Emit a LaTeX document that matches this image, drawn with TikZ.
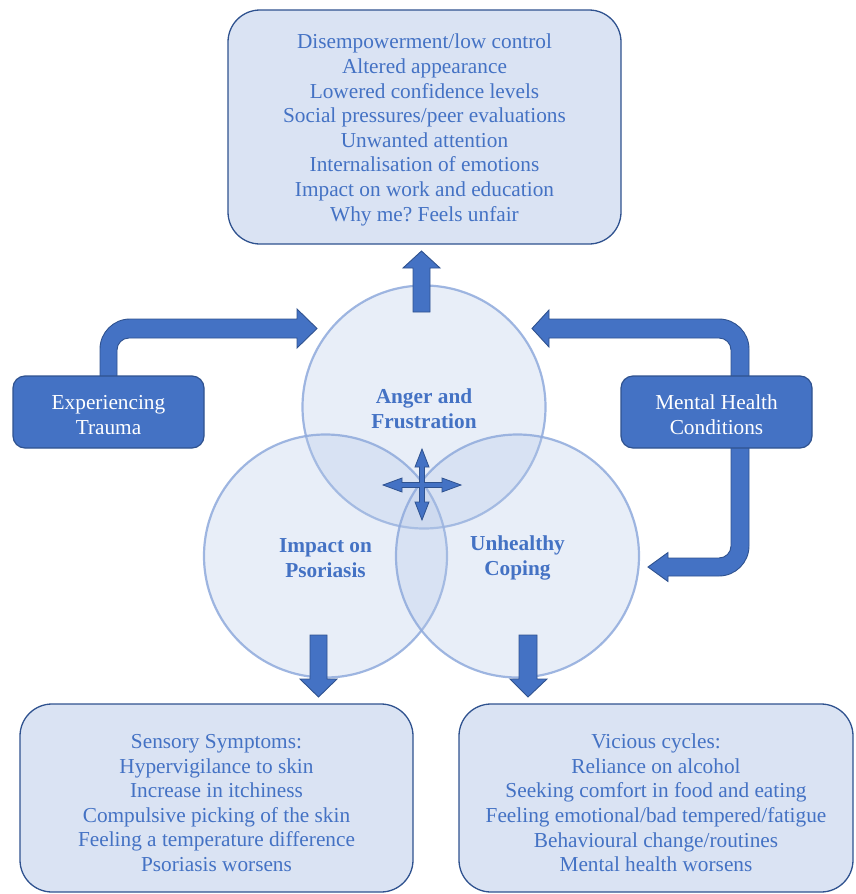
\documentclass[tikz,border=0pt]{standalone}
\usepackage{fontspec}
\setmainfont{Liberation Serif}
\frenchspacing
\definecolor{acc}{HTML}{4472C4}
\definecolor{accd}{HTML}{2F528F}
\definecolor{lite}{HTML}{DAE3F3}
\definecolor{circ}{HTML}{B4C7E7}
\definecolor{circd}{HTML}{8FAADC}
\tikzset{
  listbox/.style={draw=accd, line width=1.3pt, fill=lite, rounded corners=32pt,
    minimum width=393pt, inner sep=0pt},
  listtext/.style={align=center, text=acc, inner sep=0pt,
    font=\fontsize{21.3}{24.6}\selectfont},
  darkbox/.style={draw=accd, line width=1.2pt, fill=acc, rounded corners=12pt,
    minimum width=191pt, minimum height=72pt, inner sep=0pt},
  darktext/.style={align=center, text=white, inner sep=0pt,
    font=\fontsize{21.3}{24.6}\selectfont},
  blockarrow/.style={draw=accd, line width=0.9pt, fill=acc, line join=miter},
  venn/.style={circle, draw=circd, draw opacity=0.85, line width=2.2pt, fill=circ,
    fill opacity=0.3, minimum size=243pt, inner sep=0pt},
  venntext/.style={align=center, text=acc, inner sep=0pt,
    font=\bfseries\fontsize{21.3}{24.6}\selectfont}
}
\begin{document}
\begin{tikzpicture}[x=1pt,y=-1pt]
\useasboundingbox (0,0) rectangle (855,894);
% Venn circles
\node[venn] (anger) at (424,407) {};
\node[venn] (psor) at (325.5,556) {};
\node[venn] (coping) at (517.5,556) {};
\node[venntext] (angerT) at (424,409) {Anger and\\Frustration};
\node[venntext] (psorT) at (325.5,558) {Impact on\\Psoriasis};
\node[venntext] (copingT) at (517.5,558) {Unhealthy\\Coping};
% block arrows
\filldraw[blockarrow] (100,380) -- (100,349) .. controls (100,332.5) and (113.5,319) .. (130,319) -- (297,319) -- (297,309) -- (317,328.5) -- (297,348) -- (297,338) -- (129,338) .. controls (122.4,338) and (117,343.4) .. (117,350) -- (117,380) -- cycle;
\filldraw[blockarrow] (749,380) -- (749,349) .. controls (749,332.5) and (735.5,319) .. (719,319) -- (549,319) -- (549,310) -- (532,328.5) -- (549,347) -- (549,338) -- (719,338) .. controls (725.6,338) and (731,343.4) .. (731,350) -- (731,380) -- cycle;
\filldraw[blockarrow] (749,444) -- (749,546) .. controls (749,562.5) and (735.5,576) .. (719,576) -- (668,576) -- (668,581.5) -- (648,567) -- (668,552.5) -- (668,558) -- (719,558) .. controls (725.6,558) and (731,552.6) .. (731,546) -- (731,444) -- cycle;
\filldraw[blockarrow] (413,312) -- (413,268) -- (403,268) -- (421.5,251) -- (440,268) -- (430,268) -- (430,312) -- cycle;
\filldraw[blockarrow] (310,635) -- (310,679) -- (300,679) -- (318.5,697) -- (337,679) -- (327,679) -- (327,635) -- cycle;
\filldraw[blockarrow] (519,635) -- (519,679) -- (510,679) -- (528,697) -- (547,679) -- (537,679) -- (537,635) -- cycle;
% cross arrow
\filldraw[blockarrow, line width=0.8pt] (461,485) -- (442,478) -- (442,482.5) -- (424.5,482.5) -- (424.5,467) -- (429,467) -- (422,449) -- (415,467) -- (419.5,467) -- (419.5,482.5) -- (402,482.5) -- (402,478) -- (383,485) -- (402,492) -- (402,487.5) -- (419.5,487.5) -- (419.5,502) -- (415,502) -- (422,520) -- (429,502) -- (424.5,502) -- (424.5,487.5) -- (442,487.5) -- (442,492) -- cycle;
% boxes
\node[listbox, minimum height=234pt] (top) at (424.5,127) {};
\node[listtext] (topT) at (424.5,130) {Disempowerment/low control\\Altered appearance\\Lowered confidence levels\\Social pressures/peer evaluations\\Unwanted attention\\Internalisation of emotions\\Impact on work and education\\Why me? Feels unfair};
\node[listbox, minimum height=188pt] (sens) at (216.5,798) {};
\node[listtext] (sensT) at (216.5,803) {Sensory Symptoms:\\Hypervigilance to skin\\Increase in itchiness\\Compulsive picking of the skin\\Feeling a temperature difference\\Psoriasis worsens};
\node[listbox, minimum height=188pt, minimum width=394pt] (vic) at (656,798) {};
\node[listtext] (vicT) at (656,803) {Vicious cycles:\\Reliance on alcohol\\Seeking comfort in food and eating\\Feeling emotional/bad tempered/fatigue\\Behavioural change/routines\\Mental health worsens};
\node[darkbox] (trauma) at (108.5,412) {};
\node[darktext] (traumaT) at (108.5,415) {Experiencing\\Trauma};
\node[darkbox] (mental) at (716.5,412) {};
\node[darktext] (mentalT) at (716.5,415) {Mental Health\\Conditions};
\end{tikzpicture}
\end{document}
